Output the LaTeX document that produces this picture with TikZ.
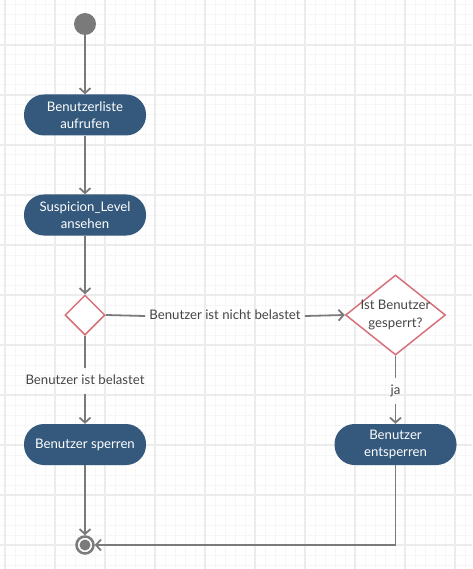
\documentclass[tikz,border=0pt]{standalone}
\usepackage{fontspec}
\setmainfont{Lato}
\usetikzlibrary{arrows.meta,shapes.geometric}
\definecolor{actblue}{HTML}{34597C}
\definecolor{decred}{HTML}{D6707A}
\definecolor{linegray}{HTML}{7A7A7A}
\definecolor{labelgray}{HTML}{454545}
\definecolor{gridminor}{HTML}{F6F6F6}
\definecolor{gridmajor}{HTML}{ECECEC}
\tikzset{
  act/.style={rounded corners=20pt, fill=actblue, text=white, minimum width=122pt,
    minimum height=41pt, align=center, inner sep=0pt,
    font=\fontsize{13.2}{17.5}\selectfont},
  decision/.style={diamond, draw=decred, line width=1.5pt, fill=white, inner sep=0pt},
  lbl/.style={text=labelgray, font=\fontsize{13.2}{16}\selectfont, text height=9.5pt, text depth=3pt},
  hlbl/.style={lbl, inner xsep=4pt, inner ysep=0pt},
  vlbl/.style={lbl, inner xsep=0pt, inner ysep=6.5pt},
  flow/.style={draw=linegray, line width=1.8pt},
  arr/.style={flow, -{Straight Barb[length=5pt,width=11pt,line width=1.8pt]}},
  minorline/.style={draw=gridminor, line width=1pt},
  majorline/.style={draw=gridmajor, line width=1.6pt},
}
\begin{document}
\begin{tikzpicture}[x=1pt,y=-1pt]
\useasboundingbox (0,0) rectangle (472,569);
% grid
\foreach \x in {5,15,...,475} \draw[minorline] (\x,0) -- (\x,569);
\foreach \y in {5,15,...,565} \draw[minorline] (0,\y) -- (472,\y);
\foreach \x in {5,55,...,455} \draw[majorline] (\x,0) -- (\x,569);
\foreach \y in {45,95,...,545} \draw[majorline] (0,\y) -- (472,\y);
% nodes
\node[circle, fill=linegray, minimum size=22pt, inner sep=0pt] (start) at (85,24) {};
\node[act] (n1) at (85,115) {Benutzerliste\\aufrufen};
\node[act] (n2) at (85,215) {Suspicion\_Level\\ansehen};
\node[decision, minimum width=40pt, minimum height=40pt] (d1) at (85,315) {};
\node[decision, minimum width=100pt, minimum height=80pt] (d2) at (395.5,315) {};
\node[text=labelgray, font=\fontsize{13.2}{17.5}\selectfont, align=center] (d2t) at (d2.center) {Ist Benutzer\\gesperrt?};
\node[act] (n3) at (85,444.5) {Benutzer sperren};
\node[act] (n4) at (395.5,444.5) {Benutzer\\entsperren};
\node[circle, draw=linegray, line width=2.5pt, fill=white, minimum size=17pt, inner sep=0pt] (end) at (85,545) {};
\fill[linegray] (end.center) circle (5.5pt);
% labels
\node[hlbl] (l1) at (225,316) {Benutzer ist nicht belastet};
\node[vlbl] (l2) at (85,381) {Benutzer ist belastet};
\node[vlbl] (l3) at (395.5,391) {ja};
% connectors
\draw[arr] (start) -- (n1);
\draw[arr] (n1) -- (n2);
\draw[arr] (n2) -- (d1);
\draw[flow] (d1.east) -- (l1.west);
\draw[arr] (l1.east) -- (d2.west);
\draw[flow] (d1.south) -- (l2.north);
\draw[arr] (l2.south) -- (n3.north);
\draw[flow] (d2.south) -- (l3.north);
\draw[arr] (l3.south) -- (n4.north);
\draw[arr] (n3.south) -- (end.north);
\draw[arr] (n4.south) |- (end.east);
\end{tikzpicture}
\end{document}
